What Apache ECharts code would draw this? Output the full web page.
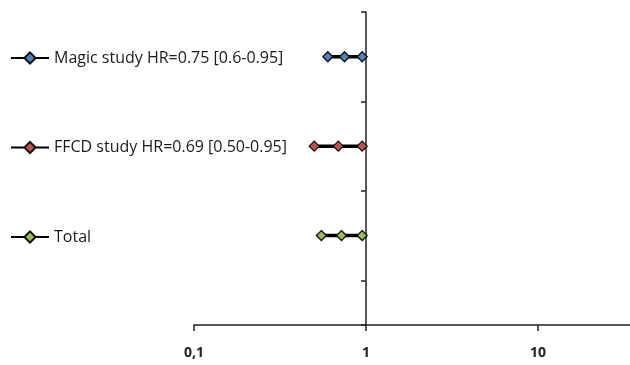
<!DOCTYPE html>
<html>
<head>
<meta charset="utf-8">
<script src="https://cdn.jsdelivr.net/npm/echarts@6/dist/echarts.min.js"></script>
<style>
  html, body { margin: 0; padding: 0; background: #fff; }
  #chart { width: 630px; height: 365px; }
</style>
</head>
<body>
<div id="chart"></div>
<script>
// studies, top to bottom
const studyNames = [
  "Magic study HR=0.75 [0.6-0.95]",
  "FFCD study HR=0.69 [0.50-0.95]",
  "Total"
];
const lowerCI = [0.6, 0.5, 0.55];
const hazardRatio = [0.75, 0.69, 0.72];
const upperCI = [0.95, 0.95, 0.95];
const markerColors = ["#4f81bd", "#c0504d", "#9bbb59"];
const xTickLabels = { 0.1: "0,1", 1: "1", 10: "10", 100: "100" };

const chart = echarts.init(document.getElementById("chart"));

// rows sit half way between the y ticks, counted from the top
const series = studyNames.map((name, i) => ({
  name: name,
  type: "line",
  symbol: "diamond",
  symbolSize: 10,
  data: [
    [lowerCI[i], i + 0.5],
    [hazardRatio[i], i + 0.5],
    [upperCI[i], i + 0.5]
  ],
  lineStyle: { color: "#000", width: 3.5 },
  itemStyle: { color: markerColors[i], borderColor: "#111", borderWidth: 1.3 },
  emphasis: { disabled: true }
}));

const axisColor = "#222";

chart.setOption({
  animation: false,
  textStyle: { fontFamily: "Open Sans" },
  legend: {
    orient: "vertical",
    left: 5,
    top: 45,
    itemGap: 73.5,
    itemWidth: 38,
    itemHeight: 14,
    textStyle: { fontSize: 16, color: "#1a1a1a" },
    data: studyNames
  },
  grid: [
    { left: 194, width: 516, top: 12, bottom: 40, outerBoundsMode: "none" },
    // second grid only carries the vertical line at HR = 1
    { left: 366, width: 100, top: 12, bottom: 40, outerBoundsMode: "none" }
  ],
  xAxis: [
    {
      type: "log",
      logBase: 10,
      min: 0.1,
      max: 100,
      axisLine: { onZero: false, lineStyle: { color: axisColor, width: 1.5 } },
      axisTick: { length: 6, lineStyle: { color: axisColor, width: 1.5 } },
      axisLabel: {
        margin: 21,
        fontSize: 14,
        fontWeight: "bold",
        color: axisColor,
        formatter: (v) => xTickLabels[v] !== undefined ? xTickLabels[v] : String(v)
      },
      splitLine: { show: false }
    },
    { gridIndex: 1, type: "value", show: false }
  ],
  yAxis: [
    {
      type: "value",
      inverse: true,
      min: 0,
      max: 3.5,
      show: false
    },
    {
      gridIndex: 1,
      type: "value",
      inverse: true,
      min: 0,
      max: 3.5,
      interval: 1,
      position: "left",
      axisLine: { show: true, onZero: false, lineStyle: { color: axisColor, width: 1.5 } },
      axisTick: { show: true, length: 5, lineStyle: { color: axisColor, width: 1.5 } },
      axisLabel: { show: false },
      splitLine: { show: false }
    }
  ],
  series: series
});
</script>
</body>
</html>
